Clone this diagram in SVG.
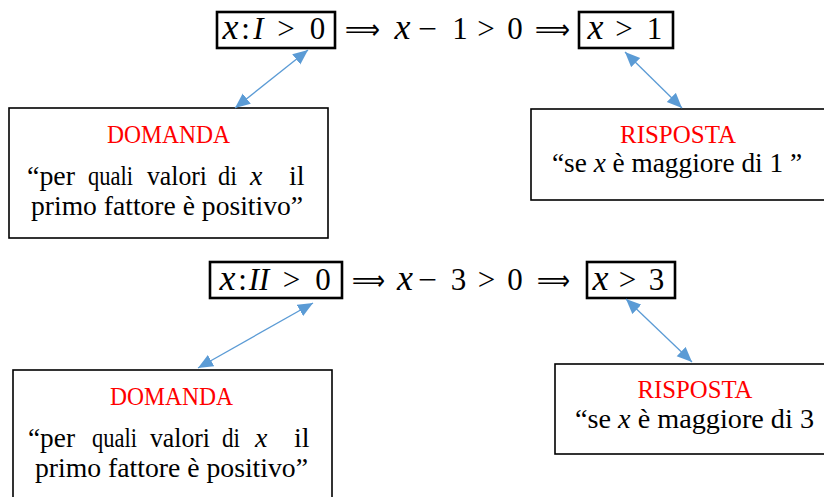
<svg xmlns="http://www.w3.org/2000/svg" width="824" height="497" viewBox="0 0 824 497">
<style>
.m{font-family:"Liberation Serif",serif;font-size:31px;fill:#000;text-anchor:middle}
.i{font-style:italic}
.x{font-family:"Liberation Serif",serif;font-size:36px;font-style:italic;fill:#000;text-anchor:middle}
.mn{font-family:"Liberation Serif",serif;font-size:31px;fill:#000}
.imp{font-family:"DejaVu Sans",sans-serif;font-size:28px;fill:#000}
.t{font-family:"Liberation Serif",serif;font-size:28px;fill:#000}
.h{font-family:"Liberation Serif",serif;font-size:26px;fill:#ff0000;text-anchor:middle}
.mb{fill:none;stroke:#000;stroke-width:2.6}
.tb{fill:#fff;stroke:#000;stroke-width:1.6}
.c{stroke:#5b9bd5;stroke-width:1.3;fill:none;marker-start:url(#ah);marker-end:url(#ah)}
</style>
<defs>
<marker id="ah" markerUnits="userSpaceOnUse" markerWidth="16" markerHeight="14" refX="15" refY="6.5" orient="auto-start-reverse" viewBox="0 0 16 13">
<path d="M0,0 L15,6.5 L0,13 z" fill="#5b9bd5"/>
</marker>
</defs>
<rect width="824" height="497" fill="#fff"/>

<g id="eq1">
<rect class="mb" x="217" y="12" width="118" height="36"/>
<rect class="mb" x="579" y="12" width="94" height="36"/>
<text class="x" x="230.5" y="39">x</text>
<text class="m" x="245.5" y="39">:</text>
<text class="m i" x="258.5" y="39">I</text>
<text class="m" x="286" y="39">&gt;</text>
<text class="m" x="317.5" y="39">0</text>
<text class="imp" x="345" y="39" textLength="35" lengthAdjust="spacingAndGlyphs">⟹</text>
<text class="x" x="402.5" y="39">x</text>
<text class="mn" x="418" y="39" textLength="19" lengthAdjust="spacingAndGlyphs">−</text>
<text class="m" x="460" y="39">1</text>
<text class="m" x="486" y="39">&gt;</text>
<text class="m" x="515" y="39">0</text>
<text class="imp" x="535" y="39" textLength="35" lengthAdjust="spacingAndGlyphs">⟹</text>
<text class="x" x="595.5" y="39">x</text>
<text class="m" x="624" y="39">&gt;</text>
<text class="m" x="654.5" y="39">1</text>
</g>

<g id="domanda1">
<rect class="tb" x="9" y="108" width="319" height="130"/>
<text class="h" x="168.5" y="143" textLength="123" lengthAdjust="spacingAndGlyphs">DOMANDA</text>
<text class="t" x="27" y="185" textLength="48" lengthAdjust="spacingAndGlyphs">“per</text>
<text class="t" x="88" y="185" textLength="45" lengthAdjust="spacingAndGlyphs">quali</text>
<text class="t" x="147" y="185" textLength="60" lengthAdjust="spacingAndGlyphs">valori</text>
<text class="t" x="218" y="185" textLength="19" lengthAdjust="spacingAndGlyphs">di</text>
<text class="t i" x="250" y="185">x</text>
<text class="t" x="289" y="185">il</text>
<text class="t" x="31" y="215" textLength="272" lengthAdjust="spacingAndGlyphs">primo fattore è positivo”</text>
</g>

<g id="risposta1">
<rect class="tb" x="531" y="109" width="300" height="91"/>
<text class="h" x="678" y="143" textLength="116" lengthAdjust="spacingAndGlyphs">RISPOSTA</text>
<text class="t" x="552" y="172" textLength="250" lengthAdjust="spacingAndGlyphs">“se <tspan font-style="italic">x</tspan> è maggiore di 1 ”</text>
</g>

<g id="eq2">
<rect class="mb" x="210" y="262" width="132" height="36"/>
<rect class="mb" x="587" y="262" width="88" height="36"/>
<text class="x" x="227.5" y="290">x</text>
<text class="m" x="242.5" y="290">:</text>
<text class="m i" x="259" y="290">II</text>
<text class="m" x="291.5" y="290">&gt;</text>
<text class="m" x="323" y="290">0</text>
<text class="imp" x="352" y="290" textLength="33" lengthAdjust="spacingAndGlyphs">⟹</text>
<text class="x" x="405" y="290">x</text>
<text class="mn" x="418" y="290" textLength="19" lengthAdjust="spacingAndGlyphs">−</text>
<text class="m" x="458.5" y="290">3</text>
<text class="m" x="486.5" y="290">&gt;</text>
<text class="m" x="515" y="290">0</text>
<text class="imp" x="537" y="290" textLength="33" lengthAdjust="spacingAndGlyphs">⟹</text>
<text class="x" x="600.5" y="290">x</text>
<text class="m" x="627.5" y="290">&gt;</text>
<text class="m" x="656.5" y="290">3</text>
</g>

<g id="domanda2">
<rect class="tb" x="13" y="370" width="319" height="140"/>
<text class="h" x="171.5" y="405" textLength="123" lengthAdjust="spacingAndGlyphs">DOMANDA</text>
<text class="t" x="28" y="447" textLength="47" lengthAdjust="spacingAndGlyphs">“per</text>
<text class="t" x="92" y="447" textLength="45" lengthAdjust="spacingAndGlyphs">quali</text>
<text class="t" x="150" y="447" textLength="60" lengthAdjust="spacingAndGlyphs">valori</text>
<text class="t" x="222" y="447" textLength="18" lengthAdjust="spacingAndGlyphs">di</text>
<text class="t i" x="255" y="447">x</text>
<text class="t" x="294" y="447">il</text>
<text class="t" x="35" y="477" textLength="273" lengthAdjust="spacingAndGlyphs">primo fattore è positivo”</text>
</g>

<g id="risposta2">
<rect class="tb" x="555" y="364" width="290" height="90"/>
<text class="h" x="695" y="398" textLength="115" lengthAdjust="spacingAndGlyphs">RISPOSTA</text>
<text class="t" x="575" y="428" textLength="239" lengthAdjust="spacingAndGlyphs">“se <tspan font-style="italic">x</tspan> è maggiore di 3</text>
</g>

<g id="connectors">
<line class="c" x1="308" y1="50" x2="235" y2="108"/>
<line class="c" x1="625" y1="52" x2="682" y2="108"/>
<line class="c" x1="313" y1="303" x2="198" y2="368"/>
<line class="c" x1="626" y1="299" x2="692" y2="362"/>
</g>
</svg>
